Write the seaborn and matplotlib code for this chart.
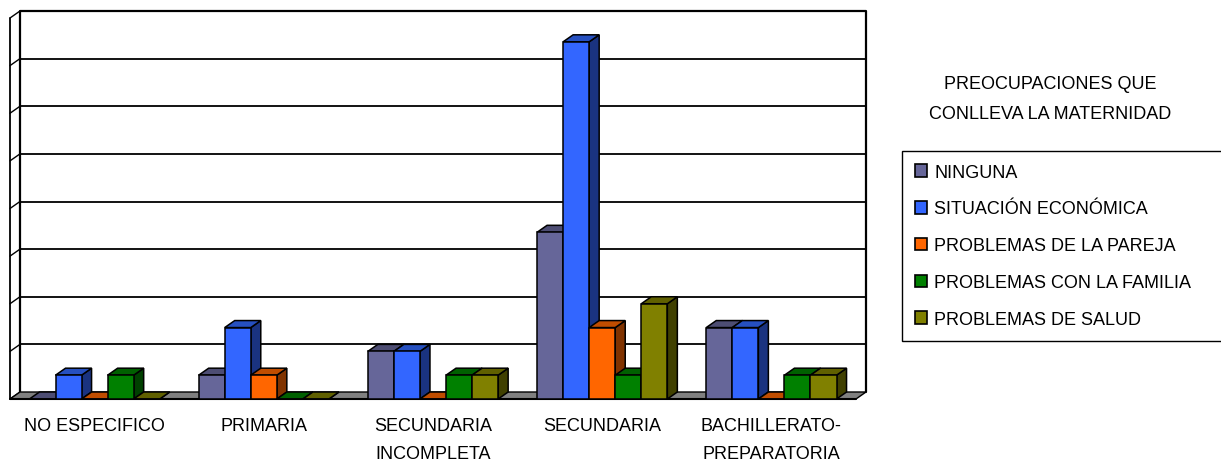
import numpy as np
import pandas as pd
import matplotlib
matplotlib.use("Agg")
import matplotlib.pyplot as plt
from matplotlib.patches import Polygon, Patch, Rectangle
import seaborn as sns

# ---------------- data ----------------
categories = ["NO ESPECIFICO", "PRIMARIA", "SECUNDARIA INCOMPLETA",
              "SECUNDARIA", "BACHILLERATO-PREPARATORIA"]
tick_labels = ["NO ESPECIFICO", "PRIMARIA", "SECUNDARIA\nINCOMPLETA",
               "SECUNDARIA", "BACHILLERATO-\nPREPARATORIA"]
series_names = ["NINGUNA", "SITUACIÓN ECONÓMICA", "PROBLEMAS DE LA PAREJA",
                "PROBLEMAS CON LA FAMILIA", "PROBLEMAS DE SALUD"]
ninguna = [0, 1, 2, 7, 3]
situacion_economica = [1, 3, 2, 15, 3]
problemas_pareja = [0, 1, 0, 3, 0]
problemas_familia = [1, 0, 1, 1, 1]
problemas_salud = [0, 0, 1, 4, 1]
legend_title = "PREOCUPACIONES QUE\nCONLLEVA LA MATERNIDAD"

front_colors = ["#666699", "#3366FF", "#FF6600", "#008000", "#808000"]
top_colors = ["#4D4D73", "#2650C0", "#C04D00", "#006000", "#606000"]
side_colors = ["#33334D", "#1A3380", "#803300", "#004000", "#404000"]

series_values = [ninguna, situacion_economica, problemas_pareja,
                 problemas_familia, problemas_salud]
rows = []
for name, vals in zip(series_names, series_values):
    for cat, v in zip(categories, vals):
        rows.append({"Nivel": cat, "Serie": name, "Valor": v})
df = pd.DataFrame(rows)

# ---------------- style ----------------
sns.set_style("white")
plt.rcParams["font.family"] = ["Liberation Sans", "DejaVu Sans"]
plt.rcParams["text.color"] = "black"
plt.rcParams["xtick.color"] = "black"

W, H, DPI = 1221, 464, 100
fig = plt.figure(figsize=(W / DPI, H / DPI), dpi=DPI)
ax_l, ax_r, ax_t, ax_b = 10, 856, 19, 400   # pixel coords of front plane
ax = fig.add_axes([ax_l / W, (H - ax_b) / H, (ax_r - ax_l) / W, (ax_b - ax_t) / H])

sns.barplot(data=df, x="Nivel", y="Valor", hue="Serie", order=categories,
            hue_order=series_names, palette=front_colors, saturation=1,
            width=0.77, edgecolor="black", linewidth=1.1, legend=False, ax=ax)
bars = sorted([p for p in ax.patches if isinstance(p, Rectangle)],
              key=lambda p: p.get_x())

YMAX = 16
ax.set_xlim(-0.5, 4.5)
ax.set_ylim(0, YMAX)
for s in ax.spines.values():
    s.set_visible(False)
ax.set_xlabel("")
ax.set_ylabel("")
ax.set_yticks([])

# depth offset in data units (10 px right, 7 px up)
px_x = (ax_r - ax_l) / 5.0
px_y = (ax_b - ax_t) / YMAX
DX = 10 / px_x
DY = 7 / px_y

LW = 1.3
x0w, x1w = -0.5, 4.5
# back wall gridlines
for v in range(2, YMAX, 2):
    ax.plot([x0w + DX, x1w + DX], [v + DY, v + DY], color="black", lw=LW,
            zorder=0.5, clip_on=False)
# back wall frame
ax.plot([x0w + DX, x0w + DX, x1w + DX, x1w + DX],
        [DY, YMAX + DY, YMAX + DY, DY], color="black", lw=1.6,
        zorder=0.6, clip_on=False)
# left wall
ax.plot([x0w, x0w], [0, YMAX], color="black", lw=1.3, zorder=0.6, clip_on=False)
for v in range(0, YMAX + 1, 2):
    ax.plot([x0w, x0w + DX], [v, v + DY], color="black", lw=1.0,
            zorder=0.6, clip_on=False)
# floor
floor = Polygon([(x0w, 0), (x1w, 0), (x1w + DX, DY), (x0w + DX, DY)],
                closed=True, facecolor="#808080", edgecolor="black", lw=1.0,
                zorder=0.8, clip_on=False)
ax.add_patch(floor)
ax.plot([x0w, x1w], [0, 0], color="black", lw=1.5, zorder=0.9, clip_on=False)

# 3D faces for bars
front_hex = [matplotlib.colors.to_hex(c) for c in front_colors]
for i, p in enumerate(bars):
    x0 = p.get_x()
    w = p.get_width()
    x1 = x0 + w
    h = p.get_height()
    fc = matplotlib.colors.to_hex(p.get_facecolor())
    k = front_hex.index(fc)
    z = 3 + i * 0.01
    p.set_zorder(z)
    top = Polygon([(x0, h), (x1, h), (x1 + DX, h + DY), (x0 + DX, h + DY)],
                  closed=True, facecolor=top_colors[k], edgecolor="black",
                  lw=1.1, zorder=z - 0.001, clip_on=False)
    side = Polygon([(x1, 0), (x1 + DX, DY), (x1 + DX, h + DY), (x1, h)],
                   closed=True, facecolor=side_colors[k], edgecolor="black",
                   lw=1.1, zorder=z - 0.002, clip_on=False)
    ax.add_patch(side)
    ax.add_patch(top)

# x ticks
ax.set_xticks(range(len(categories)))
ax.set_xticklabels(tick_labels, fontsize=13, linespacing=1.83, color="black")
ax.set_xticks(np.arange(-0.5, 5, 1.0), minor=True)
ax.tick_params(axis="x", which="major", length=0, pad=13, colors="black")
ax.tick_params(axis="x", which="minor", length=6, width=1.0, color="black",
               direction="out")

# legend title and legend
fig.text(1050 / W, 1 - 100 / H, legend_title, ha="center", va="center",
         fontsize=13, linespacing=2.0, color="black")
handles = [Patch(facecolor=c, edgecolor="black", lw=1.2) for c in front_colors]
leg = fig.legend(handles, series_names, loc="upper left",
                 bbox_to_anchor=(902 / W, 1 - 337 / H, 330 / W, 185 / H),
                 mode="expand", fontsize=13, frameon=True, fancybox=False,
                 framealpha=1, edgecolor="black", handlelength=0.7,
                 handleheight=0.7, handletextpad=0.4, labelspacing=1.1,
                 borderpad=0.7, borderaxespad=0, labelcolor="black")
leg.get_frame().set_linewidth(1.0)

fig.savefig("out.png", dpi=DPI)
